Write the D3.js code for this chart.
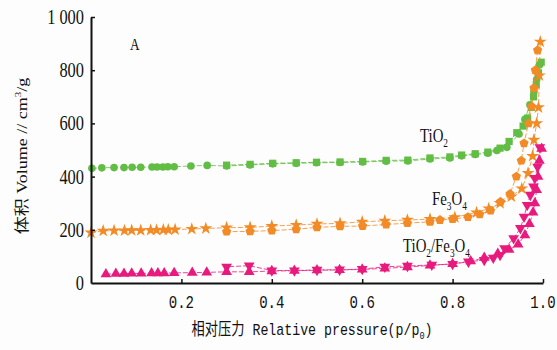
<!DOCTYPE html>
<html>
<head>
<meta charset="utf-8">
<script src="https://cdn.jsdelivr.net/npm/d3@7"></script>
<style>
  body { margin: 0; background: #fdfdfd; }
  svg { display: block; }
</style>
</head>
<body>
<script>
// N2 adsorption/desorption isotherms

var xTicks = [0.2, 0.4, 0.6, 0.8, 1.0];
var xTickLabels = ["0.2", "0.4", "0.6", "0.8", "1.0"];
var yTicks = [0, 200, 400, 600, 800, 1000];
var yTickLabels = ["0", "200", "400", "600", "800", "1 000"];

// TiO2
var tio2Ads = [[0.002,431],[0.024,433],[0.051,434],[0.073,434],[0.091,435],[0.11,435],[0.135,436],[0.146,436],
  [0.159,436],[0.17,437],[0.184,437],[0.221,440],[0.257,442],[0.30,440],[0.352,444],[0.402,448],[0.454,450],
  [0.499,452],[0.551,453],[0.601,455],[0.653,458],[0.701,459],[0.75,466],[0.794,470],[0.82,478],[0.85,483],
  [0.878,488],[0.898,498],[0.92,510],[0.947,560],[0.96,615],[0.971,670],[0.98,720],[0.986,765],[0.992,820]];
var tio2Des = [[0.996,830],[0.99,790],[0.985,745],[0.979,700],[0.974,660],[0.966,620],[0.956,590],[0.942,565],
  [0.925,532],[0.905,507],[0.878,492],[0.85,486],[0.82,481],[0.794,474],[0.75,470],[0.701,462],[0.653,461],
  [0.601,457],[0.551,455],[0.499,454],[0.454,452],[0.402,450],[0.352,446],[0.30,443]];

// Fe3O4
var feAds = [[0.0,189],[0.027,196],[0.051,197],[0.074,197],[0.09,198],[0.11,198],[0.132,199],[0.145,199],
  [0.16,200],[0.171,200],[0.186,201],[0.223,203],[0.254,205],[0.30,208],[0.352,209],[0.40,214],[0.454,218],
  [0.50,222],[0.551,224],[0.60,230],[0.65,234],[0.70,237],[0.75,240],[0.805,247],[0.853,265],[0.88,280],
  [0.905,300],[0.93,325],[0.953,355],[0.967,413],[0.977,477],[0.98,538],[0.986,600],[0.99,660],[0.992,780],[0.994,907]];
var feDes = [[0.988,875],[0.983,800],[0.98,733],[0.975,663],[0.968,600],[0.958,525],[0.952,460],[0.941,400],
  [0.927,335],[0.906,305],[0.884,272],[0.86,258],[0.834,248],[0.80,240],[0.772,237],[0.75,230],[0.70,225],
  [0.653,220],[0.601,214],[0.551,213],[0.50,209],[0.454,202],[0.40,197],[0.352,194],[0.30,193]];

// TiO2/Fe3O4
var compAds = [[0.033,33],[0.055,35],[0.073,35],[0.09,36],[0.111,36],[0.134,37],[0.148,37],[0.162,37],
  [0.184,38],[0.224,39],[0.256,40],[0.30,42],[0.35,42],[0.40,45],[0.45,46],[0.50,48],[0.55,49],[0.60,51],
  [0.65,55],[0.70,60],[0.75,66],[0.80,72],[0.84,82],[0.87,95],[0.90,110],[0.925,125],[0.945,145],[0.96,180],
  [0.97,222],[0.978,265],[0.982,300],[0.986,350],[0.989,400],[0.992,460],[0.997,505]];
var compDes = [[0.993,510],[0.988,437],[0.982,394],[0.979,362],[0.972,331],[0.965,293],[0.958,249],[0.95,206],
  [0.935,168],[0.915,130],[0.905,105],[0.89,95],[0.87,86],[0.835,80],[0.80,71],[0.754,68],[0.70,64],[0.65,61],
  [0.60,52],[0.55,50],[0.50,49],[0.45,47],[0.40,47],[0.35,65],[0.30,61]];

var green = "#62bd45", orange = "#f28a26", pink = "#e81a7d";

var pentagon = {
  draw: function(ctx, size) {
    var r = Math.sqrt(size / 2.378);
    for (var i = 0; i < 5; i++) {
      var a = -Math.PI / 2 + i * 2 * Math.PI / 5;
      if (i === 0) ctx.moveTo(r * Math.cos(a), r * Math.sin(a));
      else ctx.lineTo(r * Math.cos(a), r * Math.sin(a));
    }
    ctx.closePath();
  }
};

var series = [
  {data: tio2Ads, color: green, symbol: d3.symbolCircle, size: 46, rot: 0},
  {data: tio2Des, color: green, symbol: d3.symbolSquare, size: 52, rot: 0},
  {data: feAds, color: orange, symbol: d3.symbolStar, size: 52, rot: 0},
  {data: feDes, color: orange, symbol: pentagon, size: 56, rot: 0},
  {data: compAds, color: pink, symbol: d3.symbolTriangle, size: 50, rot: 0},
  {data: compDes, color: pink, symbol: d3.symbolTriangle, size: 50, rot: 180}
];

var width = 557, height = 350;

var svg = d3.select("body").append("svg")
  .attr("width", width).attr("height", height);

var x = d3.scaleLinear().domain([0, 1]).range([91, 543]);
var y = d3.scaleLinear().domain([0, 1000]).range([283, 17]);

var serif = "'Liberation Serif', 'Times New Roman', serif";
var mono = "'Liberation Mono', monospace";
var cjk = "'Noto Sans CJK SC', sans-serif";

// squeezed text like the scanned figure
function label(px, py, anchor) {
  return svg.append("text")
    .attr("transform", "translate(" + px + "," + py + ") scale(0.78,1)")
    .attr("text-anchor", anchor || "start")
    .attr("fill", "#111");
}

// lines and markers
var line = d3.line().x(d => x(d[0])).y(d => y(d[1]));

series.forEach(function(s) {
  svg.append("path")
    .attr("d", line(s.data))
    .attr("fill", "none")
    .attr("stroke", s.color)
    .attr("stroke-opacity", 0.8)
    .attr("stroke-width", 1)
    .attr("stroke-dasharray", "5,2");

  svg.append("g").selectAll("path")
    .data(s.data).enter()
    .append("path")
    .attr("d", d3.symbol().type(s.symbol).size(s.size))
    .attr("transform", d => "translate(" + x(d[0]) + "," + y(d[1]) + ") rotate(" + s.rot + ")")
    .attr("fill", s.color);
});

// axes
var xAxis = d3.axisBottom(x).tickValues(xTicks).tickSizeInner(-4).tickSizeOuter(0).tickFormat("");
var yAxis = d3.axisLeft(y).tickValues(yTicks.slice(1)).tickSizeInner(-4).tickSizeOuter(0).tickFormat("");

var xg = svg.append("g").attr("transform", "translate(0,283)").call(xAxis);
var yg = svg.append("g").attr("transform", "translate(91,0)").call(yAxis);
[xg, yg].forEach(function(g) {
  g.select(".domain").attr("stroke", "#111").attr("stroke-width", 2);
  g.selectAll(".tick line").attr("stroke", "#111").attr("stroke-width", 1.5);
});

xTicks.forEach(function(t, i) {
  label(x(t), 308, "middle").attr("font-family", mono).attr("font-size", 18).text(xTickLabels[i]);
});
yTicks.forEach(function(t, i) {
  label(84, y(t) + 7, "end").attr("font-family", serif).attr("font-size", 21).text(yTickLabels[i]);
});

// axis titles
var xt = label(312, 335, "middle").attr("font-size", 17);
xt.append("tspan").attr("font-family", cjk).text("相对压力");
xt.append("tspan").attr("font-family", mono).text(" Relative pressure(p/p");
xt.append("tspan").attr("font-family", mono).attr("font-size", 11).attr("dy", 4).text("0");
xt.append("tspan").attr("font-family", mono).attr("dy", -4).text(")");

var yt = svg.append("text")
  .attr("transform", "translate(27,156) rotate(-90) scale(1,0.8)")
  .attr("text-anchor", "middle").attr("fill", "#111").attr("font-size", 18);
yt.append("tspan").attr("font-family", cjk).text("体积");
yt.append("tspan").attr("font-family", serif).text(" Volume // cm");
yt.append("tspan").attr("font-family", serif).attr("font-size", 11).attr("dy", -7).text("3");
yt.append("tspan").attr("font-family", serif).attr("dy", 7).text("/g");

// annotations
label(130, 50).attr("font-family", serif).attr("font-size", 17).text("A");

// parts alternate: normal text, subscript, normal text, ...
function chem(px, py, parts) {
  var t = label(px, py).attr("font-family", serif).attr("font-size", 19);
  parts.forEach(function(p, i) {
    var sub = i % 2 === 1;
    t.append("tspan")
      .attr("font-size", sub ? 12 : 19)
      .attr("dy", i === 0 ? 0 : (sub ? 5 : -5))
      .text(p);
  });
}
chem(420, 142, ["TiO", "2"]);
chem(432, 205, ["Fe", "3", "O", "4"]);
chem(403, 252, ["TiO", "2", "/Fe", "3", "O", "4"]);
</script>
</body>
</html>
